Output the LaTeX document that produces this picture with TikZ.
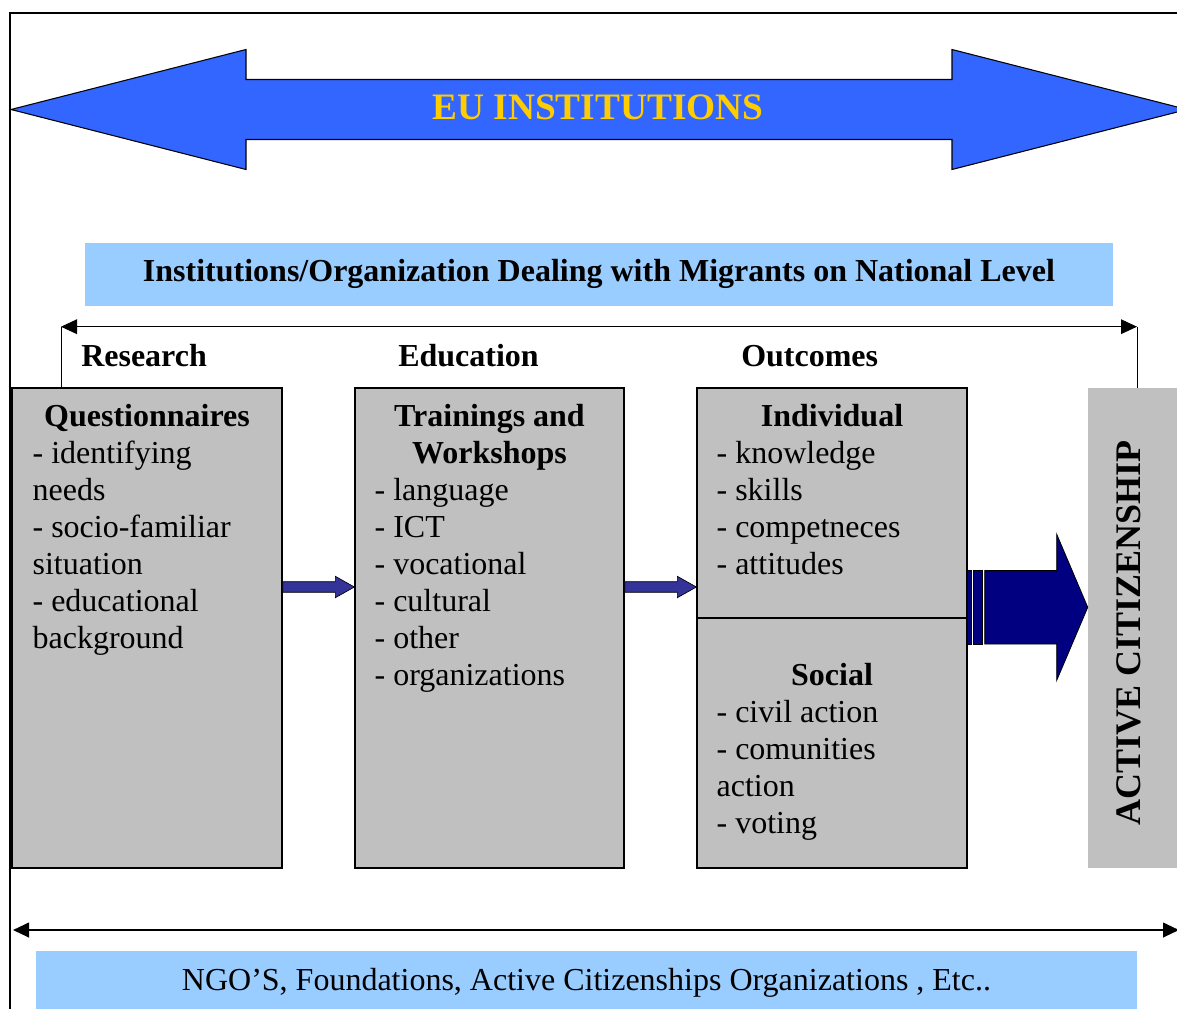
\documentclass[tikz,border=0pt]{standalone}
\usepackage{fontspec}
\setmainfont{Liberation Serif}
\usetikzlibrary{arrows.meta,calc}

\definecolor{eublue}{HTML}{3366FF}
\definecolor{eugold}{HTML}{FFCC00}
\definecolor{lightsky}{HTML}{99CCFF}
\definecolor{panelgray}{HTML}{C0C0C0}
\definecolor{flowblue}{HTML}{333399}
\definecolor{navyarrow}{HTML}{000080}

\tikzset{
  panel/.style={draw, fill=panelgray, line width=1pt, minimum width=202.5pt, minimum height=360pt, inner sep=0pt},
  boxhead/.style={font=\bfseries\fontsize{24pt}{27.75pt}\selectfont, inner sep=0pt},
  boxitems/.style={font=\fontsize{24pt}{27.75pt}\selectfont, align=left, inner sep=0pt, anchor=base west},
  band/.style={fill=lightsky, inner sep=0pt, text height=18pt},
  flow/.style={draw=black, line width=0.5pt, fill=flowblue},
  bigflow/.style={draw=black, line width=0.6pt, fill=navyarrow},
  spanline/.style={{Triangle[length=12pt,width=11pt]}-{Triangle[length=12pt,width=11pt]}}
}

\begin{document}
\begin{tikzpicture}[x=0.75pt,y=-0.75pt]
\useasboundingbox (0,0) rectangle (1177,1008);
\clip (0,0) rectangle (1177,1008);
% outer frame, runs off the page on the right and bottom
\draw[line width=1pt] (10,1020) -- (10,13) -- (1190,13);

% EU double arrow
\draw[fill=eublue, line width=0.8pt] (11,109.5) -- (246,49.5) -- (246,79.5) -- (952,79.5) -- (952,49.5) -- (1187,109.5)
  -- (952,169.5) -- (952,139.5) -- (246,139.5) -- (246,169.5) -- cycle;
\node[anchor=base, inner sep=0pt, text=eugold, font=\bfseries\fontsize{28pt}{32pt}\selectfont] (eu) at (598,119.5) {EU INSTITUTIONS};

% national level
\node[band, minimum width=771pt, minimum height=46.8pt, text depth=8.25pt, font=\bfseries\fontsize{24pt}{28pt}\selectfont] (natl) at (599,274.5)
  {Institutions/Organization Dealing with Migrants on National Level};

% the three stages and the goal
\node[panel] (quest) at (147,628) {};
\node[panel, minimum width=201.75pt] (train) at (489.5,628) {};
\node[panel] (outc) at (832,628) {};
\node[fill=panelgray, minimum width=76.5pt, minimum height=360pt, inner sep=0pt] (active) at (1139,628) {};
\draw[line width=1pt] ([yshift=7.5pt]outc.west) -- ([yshift=7.5pt]outc.east);

% bracket over the stages
\coordinate (brl) at (61,326.7);
\coordinate (brr) at (1137,326.7);
\draw[spanline, line width=0.75pt] (brl) -- (brr);
\draw[line width=0.75pt] (brl) -- (brl |- quest.north);
\draw[line width=0.75pt] (brr) -- (brr |- active.north);

\node[boxhead, anchor=base west] (research) at (81,366) {Research};
\node[boxhead, anchor=base west] (educ) at (398,366) {Education};
\node[boxhead, anchor=base west] (outlab) at (741,366) {Outcomes};

% box contents (multi-line nodes sit on the baseline of their last line)
\node[boxhead, anchor=base] (questhd) at ($(quest.north)+(0,39)$) {Questionnaires};
\node[boxitems] (questls) at ($(quest.north west)+(21,261)$) {- identifying\\needs\\- socio-familiar\\situation\\- educational\\background};

\node[boxhead, anchor=base, align=center] (trainhd) at ($(train.north)+(0,76)$) {Trainings and\\Workshops};
\node[boxitems] (trainls) at ($(train.north west)+(20,298)$) {- language\\- ICT\\- vocational\\- cultural\\- other\\- organizations};

\node[boxhead, anchor=base] (indhd) at ($(outc.north)+(0,39)$) {Individual};
\node[boxitems] (indls) at ($(outc.north west)+(20,187)$) {- knowledge\\- skills\\- competneces\\- attitudes};
\node[boxhead, anchor=base] (sochd) at ($(outc.north)+(0,298)$) {Social};
\node[boxitems] (socls) at ($(outc.north west)+(20,446)$) {- civil action\\- comunities\\action\\- voting};

\node[rotate=90, inner sep=0pt, font=\bfseries\fontsize{27pt}{30pt}\selectfont] (activetxt) at (1129,633) {ACTIVE CITIZENSHIP};

% arrows between the stages
\coordinate (f1s) at (quest.east |- 0,587);
\coordinate (f1e) at (train.west |- 0,587);
\coordinate (f2s) at (train.east |- 0,587);
\coordinate (f2e) at (outc.west |- 0,587);
\draw[flow] ($(f1s)+(0,-5.3)$) -- ($(f1e)+(-19,-5.3)$) -- ($(f1e)+(-19,-10.7)$) -- (f1e) -- ($(f1e)+(-19,10.7)$) -- ($(f1e)+(-19,5.3)$) -- ($(f1s)+(0,5.3)$) -- cycle;
\draw[flow] ($(f2s)+(0,-5.3)$) -- ($(f2e)+(-19,-5.3)$) -- ($(f2e)+(-19,-10.7)$) -- (f2e) -- ($(f2e)+(-19,10.7)$) -- ($(f2e)+(-19,5.3)$) -- ($(f2s)+(0,5.3)$) -- cycle;

% striped arrow into active citizenship
\coordinate (b0) at (outc.east |- 0,607.3);
\coordinate (b1) at (active.west |- 0,607.3);
\draw[bigflow] ($(b0)+(0,-36.7)$) rectangle ($(b0)+(4,36.7)$);
\draw[bigflow] ($(b0)+(6,-36.7)$) rectangle ($(b0)+(15,36.7)$);
\draw[bigflow] ($(b0)+(17,-36.7)$) -- ($(b1)+(-31,-36.7)$) -- ($(b1)+(-31,-73)$) -- (b1) -- ($(b1)+(-31,73)$) -- ($(b1)+(-31,36.7)$) -- ($(b0)+(17,36.7)$) -- cycle;

% civil society level
\coordinate (ngol) at (13,930);
\coordinate (ngor) at (1179,930);
\draw[spanline, line width=1.5pt] (ngol) -- (ngor);
\node[band, minimum width=825.75pt, minimum height=48pt, text depth=7.5pt, font=\fontsize{24pt}{28pt}\selectfont] (ngo) at (586.5,983)
  {NGO’S, Foundations, Active Citizenships Organizations , Etc..};
\end{tikzpicture}
\end{document}
